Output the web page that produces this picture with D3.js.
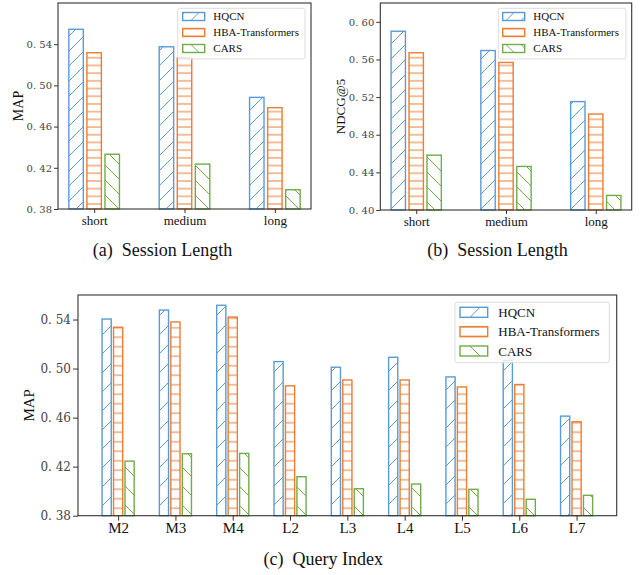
<!DOCTYPE html>
<html>
<head>
<meta charset="utf-8">
<script src="https://cdn.jsdelivr.net/npm/d3@7"></script>
<style>
  body { margin: 0; background: #fff; }
  text { font-family: "Liberation Serif", "Times New Roman", serif; fill: #111; }
  .tick text { font-family: "DejaVu Serif", serif; fill: #444; }
</style>
</head>
<body>
<script>
// series and categories
var series = ["HQCN", "HBA-Transformers", "CARS"];
var sessionCats = ["short", "medium", "long"];
var queryCats = ["M2", "M3", "M4", "L2", "L3", "L4", "L5", "L6", "L7"];

// (a) MAP by session length
var mapHQCN = [0.5545, 0.5375, 0.4884];
var mapHBA = [0.5317, 0.5268, 0.4784];
var mapCARS = [0.4332, 0.4236, 0.3987];

// (b) NDCG@5 by session length
var ndcgHQCN = [0.590, 0.5695, 0.5152];
var ndcgHBA = [0.5671, 0.5568, 0.5020];
var ndcgCARS = [0.4583, 0.4463, 0.4155];

// (c) MAP by query index
var qHQCN = [0.5404, 0.5477, 0.5516, 0.5057, 0.5011, 0.5092, 0.4932, 0.5065, 0.4612];
var qHBA = [0.5337, 0.5380, 0.5420, 0.4859, 0.4907, 0.4907, 0.4850, 0.4870, 0.4566];
var qCARS = [0.4245, 0.4305, 0.4308, 0.4118, 0.4020, 0.4058, 0.4015, 0.3934, 0.3966];

var mapTicks = [0.38, 0.42, 0.46, 0.50, 0.54];
var ndcgTicks = [0.40, 0.44, 0.48, 0.52, 0.56, 0.60];

var colors = ["#5b9bd5", "#ed7d31", "#70ad47"];
var hatches = ["/", "-", "\\"];

var svg = d3.select("body").append("svg")
    .attr("width", 644)
    .attr("height", 575);
var defs = svg.append("defs");

// hatch patterns, one set per panel size
function makePatterns(key, s, h) {
    series.forEach(function (name, i) {
        var p = defs.append("pattern")
            .attr("id", key + i)
            .attr("patternUnits", "userSpaceOnUse");
        p.append("rect").attr("width", 40).attr("height", 40).attr("fill", "#fff");
        var d;
        if (hatches[i] == "/") {
            p.attr("width", s).attr("height", s);
            d = "M0," + s + "L" + s + ",0M" + (-s / 2) + "," + (s / 2) + "L" + (s / 2) + "," + (-s / 2) +
                "M" + (s / 2) + "," + (s * 1.5) + "L" + (s * 1.5) + "," + (s / 2);
        } else if (hatches[i] == "\\") {
            p.attr("width", s).attr("height", s);
            d = "M0,0L" + s + "," + s + "M" + (-s / 2) + "," + (s / 2) + "L" + (s / 2) + "," + (s * 1.5) +
                "M" + (s / 2) + "," + (-s / 2) + "L" + (s * 1.5) + "," + (s / 2);
        } else {
            p.attr("width", 10).attr("height", h);
            d = "M0," + (h / 2) + "L10," + (h / 2);
        }
        p.append("path").attr("d", d)
            .attr("stroke", colors[i])
            .attr("stroke-width", 1)
            .attr("fill", "none");
    });
}
makePatterns("hs", 15, 7.7);
makePatterns("hl", 19, 9.5);

function panel(c) {
    var g = svg.append("g");

    var x = d3.scalePoint().domain(c.cats).range([c.x0, c.x1]).padding(c.pad);
    var half = x.step() * 0.28;
    var inner = d3.scaleBand().domain(series).range([-half, half]).paddingInner(0.2);
    var y = d3.scaleLinear().domain(c.domain).range([c.y1, c.y0]);

    // bars
    c.vals.forEach(function (vals, i) {
        g.selectAll(".bar" + i).data(vals).enter().append("rect")
            .attr("x", function (d, j) { return x(c.cats[j]) + inner(series[i]); })
            .attr("width", inner.bandwidth())
            .attr("y", function (d) { return y(d); })
            .attr("height", function (d) { return c.y1 - y(d); })
            .attr("fill", "url(#" + c.pat + i + ")")
            .attr("stroke", colors[i])
            .attr("stroke-width", 1.4);
    });

    // y axis
    var ya = g.append("g")
        .attr("transform", "translate(" + c.x0 + ",0)")
        .call(d3.axisLeft(y).tickValues(c.ticks).tickSize(c.tick).tickPadding(2)
            .tickFormat(function (d) { return d3.format(".2f")(d).replace(".", ". "); }));
    ya.select(".domain").remove();
    ya.selectAll("text").attr("font-size", c.tickFont);
    ya.selectAll("line").attr("stroke", "#333");

    // x axis
    var xa = g.append("g")
        .attr("transform", "translate(0," + c.y1 + ")")
        .call(d3.axisBottom(x).tickSize(c.tick).tickPadding(c.xPad));
    xa.select(".domain").remove();
    xa.selectAll("text")
        .attr("font-size", c.xFont)
        .style("font-family", "'Liberation Serif', serif")
        .style("fill", "#111");
    xa.selectAll("line").attr("stroke", "#333");

    // frame
    g.append("rect")
        .attr("x", c.x0).attr("y", c.y0)
        .attr("width", c.x1 - c.x0).attr("height", c.y1 - c.y0)
        .attr("fill", "none").attr("stroke", "#333").attr("stroke-width", 1.1);

    // y label
    g.append("text")
        .attr("transform", "translate(" + c.yLabX + "," + ((c.y0 + c.y1) / 2) + ") rotate(-90)")
        .attr("text-anchor", "middle")
        .attr("font-size", c.yFont)
        .text(c.ylabel);

    // legend
    var L = c.legend;
    g.append("rect")
        .attr("x", L.x).attr("y", L.y).attr("width", L.w).attr("height", L.h)
        .attr("rx", 2)
        .attr("fill", "#fff").attr("fill-opacity", 0.8)
        .attr("stroke", "#ddd").attr("stroke-width", 1);
    var rows = g.selectAll(".leg").data(series).enter().append("g")
        .attr("transform", function (d, i) { return "translate(0," + (L.cy + i * L.dy) + ")"; });
    rows.append("rect")
        .attr("x", L.px).attr("y", -L.ph / 2)
        .attr("width", L.pw).attr("height", L.ph)
        .attr("fill", function (d, i) { return "url(#" + c.pat + i + ")"; })
        .attr("stroke", function (d, i) { return colors[i]; })
        .attr("stroke-width", 1.4);
    rows.append("text")
        .attr("x", L.tx).attr("dy", "0.35em")
        .attr("font-size", L.font)
        .text(function (d) { return d; });

    // caption
    var cap = g.append("text")
        .attr("x", c.capX).attr("y", c.capY)
        .attr("text-anchor", "middle")
        .attr("font-size", 18);
    cap.append("tspan").text(c.capTag);
    cap.append("tspan").attr("dx", 9).text(c.caption);
}

panel({
    x0: 58, x1: 311, y0: 3, y1: 209, pad: 0.4, pat: "hs",
    cats: sessionCats, vals: [mapHQCN, mapHBA, mapCARS],
    domain: [0.38, 0.58], ticks: mapTicks, tick: 4, tickFont: 10,
    xFont: 13, xPad: 3, yFont: 14, yLabX: 23, ylabel: "MAP",
    legend: { x: 177.7, y: 8.3, w: 127.3, h: 50.7, px: 182.7, pw: 22, ph: 8, cy: 16.5, dy: 16, tx: 213.3, font: 11 },
    capX: 162.5, capY: 256, capTag: "(a)", caption: "Session Length"
});

panel({
    x0: 380.3, x1: 631.7, y0: 3, y1: 210, pad: 0.4, pat: "hs",
    cats: sessionCats, vals: [ndcgHQCN, ndcgHBA, ndcgCARS],
    domain: [0.40, 0.62], ticks: ndcgTicks, tick: 4, tickFont: 10,
    xFont: 13, xPad: 3, yFont: 13, yLabX: 345, ylabel: "NDCG@5",
    legend: { x: 498.3, y: 8.3, w: 127.7, h: 50.7, px: 502.7, pw: 22, ph: 8, cy: 16.5, dy: 16, tx: 533.3, font: 11 },
    capX: 497.5, capY: 256, capTag: "(b)", caption: "Session Length"
});

panel({
    x0: 78, x1: 616.7, y0: 295, y1: 515.7, pad: 0.7, pat: "hl",
    cats: queryCats, vals: [qHQCN, qHBA, qCARS],
    domain: [0.38, 0.56], ticks: mapTicks, tick: 5, tickFont: 12,
    xFont: 15, xPad: 2, yFont: 15, yLabX: 34, ylabel: "MAP",
    legend: { x: 455, y: 302.3, w: 154.3, h: 60.4, px: 460, pw: 27.7, ph: 10, cy: 312.3, dy: 19.35, tx: 498.3, font: 13 },
    capX: 323.3, capY: 565, capTag: "(c)", caption: "Query Index"
});
</script>
</body>
</html>
